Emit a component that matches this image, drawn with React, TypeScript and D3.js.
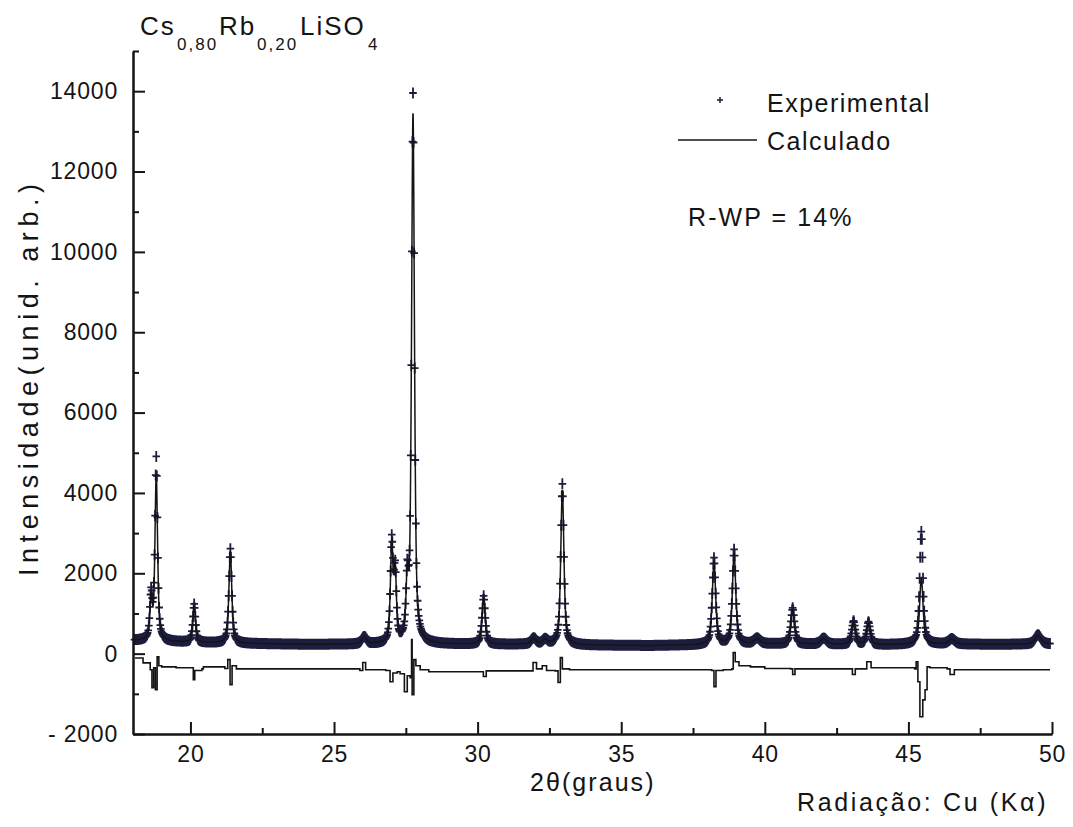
import { useEffect, useRef } from "react";
import * as d3 from "d3";

// Picos (2θ em graus, intensidade acima do fundo)
const peakPos = [18.63, 18.81, 20.13, 21.39, 26.05, 27.01, 27.13, 27.55, 27.75, 30.21, 31.95, 32.35, 32.95, 38.23, 38.93, 39.73, 40.97, 42.05, 43.09, 43.61, 45.45, 46.51, 49.51];
const peakExp = [1100, 4550, 950, 2350, 180, 2500, 1700, 1400, 13650, 1200, 150, 120, 4000, 2150, 2350, 140, 900, 150, 580, 560, 2800, 130, 230];
const peakCalc = [1000, 4100, 900, 2250, 170, 2400, 1650, 1350, 13150, 1150, 140, 110, 3850, 2050, 2250, 130, 850, 140, 550, 530, 1650, 120, 220];
const peakWidth = [0.1, 0.11, 0.11, 0.12, 0.2, 0.11, 0.1, 0.1, 0.12, 0.13, 0.2, 0.2, 0.13, 0.14, 0.14, 0.25, 0.15, 0.25, 0.15, 0.15, 0.14, 0.25, 0.25];

// Fundo lido a cada 2 graus
const bgPos = [18, 20, 22, 24, 26, 28, 30, 32, 34, 36, 38, 40, 42, 44, 46, 48, 50];
const bgVal = [330, 280, 250, 230, 230, 240, 230, 230, 210, 200, 220, 240, 230, 220, 240, 230, 240];

// Curva de diferença (vértices lidos)
const resPos = [18.07, 18.35, 18.6, 18.66, 18.72, 18.78, 18.84, 18.9, 19.0, 19.5, 20.05, 20.1, 20.15, 20.4, 20.45, 21.2, 21.3, 21.38, 21.45, 21.6, 25.9, 26.0, 26.1,
  26.8, 26.95, 27.05, 27.2, 27.3, 27.45, 27.55, 27.65, 27.7, 27.72, 27.78, 27.85, 28.0, 28.3, 30.1, 30.2, 30.3, 31.8, 31.93, 32.05, 32.25, 32.4, 32.7, 32.8, 32.88, 32.95, 33.2,
  35, 37.9, 38.15, 38.23, 38.3, 38.55, 38.85, 38.9, 38.97, 39.1, 39.5, 40.0, 40.9, 40.97, 41.05, 42, 42.8, 43.05, 43.15, 43.45, 43.55, 43.7,
  45.22, 45.27, 45.33, 45.4, 45.5, 45.58, 45.65, 45.75, 46.35, 46.45, 46.6, 49.93];
const resVal = [-110, -230, -400, -850, -350, -900, -80, -300, -330, -350, -350, -650, -420, -380, -330, -370, -150, -770, -300, -380, -420, -220, -400,
  -420, -700, -480, -450, -500, -950, -550, -600, 350, -1020, -150, -300, -400, -450, -450, -570, -430, -430, -220, -380, -300, -420, -430, -720, -100, -380, -400,
  -400, -400, -420, -820, -420, -400, -380, 25, -200, -300, -330, -370, -380, -520, -380, -380, -380, -520, -380, -380, -200, -350,
  -380, -200, -700, -1570, -1150, -900, -330, -350, -380, -520, -400, -400];

const xTicks = [20, 25, 30, 35, 40, 45, 50];
const yTicks = [-2000, 0, 2000, 4000, 6000, 8000, 10000, 12000, 14000];

const W = 1073;
const H = 827;
const font = "'Liberation Sans', Arial, sans-serif";
const ink = "#141414";
const markInk = "#1c1c3e";

const drawChart = (node: SVGSVGElement) => {
  const svg = d3.select(node);
  svg.selectAll("*").remove();

  const x = d3.scaleLinear().domain([18, 50]).range([133, 1052]);
  const y = d3.scaleLinear().domain([-2000, 15000]).range([734, 51]);
  const bg = d3.scaleLinear().domain(bgPos).range(bgVal);

  const pv = (t: number, p: number, w: number) => {
    const d = (t - p) / w;
    return 0.6 / (1 + 4 * d * d) + 0.4 * Math.exp(-4 * Math.LN2 * d * d);
  };
  const profile = (t: number, hs: number[]) =>
    bg(t) + d3.sum(peakPos, (p, i) => hs[i] * pv(t, p, peakWidth[i]));

  // pontos experimentais (passo 0.02)
  const steps = d3.range(18.05, 49.95, 0.02);
  const s = 3.8;
  const sv = 5.5;
  const plus = steps.map(t => {
    const px = x(t);
    const py = y(profile(t, peakExp));
    return `M${px - s},${py}h${2 * s}M${px},${py - sv}v${2 * sv}`;
  }).join("");
  svg.append("path")
    .attr("d", plus)
    .attr("stroke", markInk)
    .attr("stroke-width", 1.8)
    .attr("fill", "none");

  // curva calculada
  const fine = d3.range(18.05, 49.95, 0.004);
  svg.append("path")
    .datum(fine)
    .attr("d", d3.line<number>().x(t => x(t)).y(t => y(profile(t, peakCalc))))
    .attr("stroke", ink)
    .attr("stroke-width", 1.5)
    .attr("fill", "none");

  // diferença
  svg.append("path")
    .datum(d3.range(resPos.length))
    .attr("d", d3.line<number>().x(i => x(resPos[i])).y(i => y(resVal[i])).curve(d3.curveStepAfter))
    .attr("stroke", ink)
    .attr("stroke-width", 1.6)
    .attr("fill", "none");

  // eixos
  const yAxis = svg.append("g").attr("transform", "translate(133,0)")
    .call(d3.axisLeft(y).tickValues(yTicks).tickSize(-12).tickSizeOuter(0).tickPadding(15)
      .tickFormat(d => String(d).replace("-", "- ")));
  const yMinor = svg.append("g").attr("transform", "translate(133,0)")
    .call(d3.axisLeft(y).tickValues(d3.range(-1000, 15001, 2000)).tickSize(-6).tickSizeOuter(0).tickFormat(() => ""));
  const xAxis = svg.append("g").attr("transform", "translate(0,734)")
    .call(d3.axisBottom(x).tickValues(xTicks).tickSize(-12).tickSizeOuter(0).tickPadding(12));
  const xMinor = svg.append("g").attr("transform", "translate(0,734)")
    .call(d3.axisBottom(x).tickValues(d3.range(22.5, 50, 5)).tickSize(-6).tickSizeOuter(0).tickFormat(() => ""));

  [yAxis, yMinor, xAxis, xMinor].forEach(g => {
    g.selectAll("path, line").attr("stroke", ink).attr("stroke-width", 2);
    g.selectAll("text")
      .attr("fill", ink)
      .style("font-family", font)
      .style("font-size", "23px")
      .style("letter-spacing", "0.8px");
  });

  const txt = (tx: number, ty: number, str: string, size: number, ls = 1.5) =>
    svg.append("text")
      .attr("x", tx).attr("y", ty)
      .attr("fill", ink)
      .style("font-family", font)
      .style("font-size", `${size}px`)
      .style("letter-spacing", `${ls}px`)
      .text(str);

  // título
  txt(140, 35, "Cs", 26, 2);
  txt(177, 50, "0,80", 17, 2);
  txt(219, 35, "Rb", 26, 2);
  txt(257, 50, "0,20", 17, 2);
  txt(300, 35, "LiSO", 26, 2);
  txt(368, 50, "4", 17, 2);

  // legenda
  svg.append("path")
    .attr("d", "M717,100h6M720,97v6")
    .attr("stroke", markInk)
    .attr("stroke-width", 1.5);
  txt(767, 112, "Experimental", 25, 1.5);
  svg.append("line")
    .attr("x1", 678).attr("x2", 757).attr("y1", 140).attr("y2", 140)
    .attr("stroke", ink).attr("stroke-width", 1.6);
  txt(767, 150, "Calculado", 25, 1.5);
  txt(688, 226, "R-WP = 14%", 25, 1.5).attr("textLength", 165).attr("lengthAdjust", "spacing");

  // rótulos dos eixos
  txt(530, 791, "2θ(graus)", 25, 1.5).attr("textLength", 125).attr("lengthAdjust", "spacing");
  txt(797, 811, "Radiação: Cu (Kα)", 25, 1.5).attr("textLength", 250).attr("lengthAdjust", "spacing");
  svg.append("text")
    .attr("transform", "translate(38,380) rotate(-90)")
    .attr("text-anchor", "middle")
    .attr("fill", ink)
    .attr("textLength", 392)
    .attr("lengthAdjust", "spacing")
    .style("font-family", font)
    .style("font-size", "27px")
    .text("Intensidade(unid. arb.)");
};

export default function App() {
  const ref = useRef<SVGSVGElement>(null);
  useEffect(() => {
    if (ref.current) drawChart(ref.current);
  }, []);
  return (
    <svg
      ref={ref}
      width={W}
      height={H}
      style={{ position: "absolute", left: 0, top: 0, background: "#fff" }}
    />
  );
}
